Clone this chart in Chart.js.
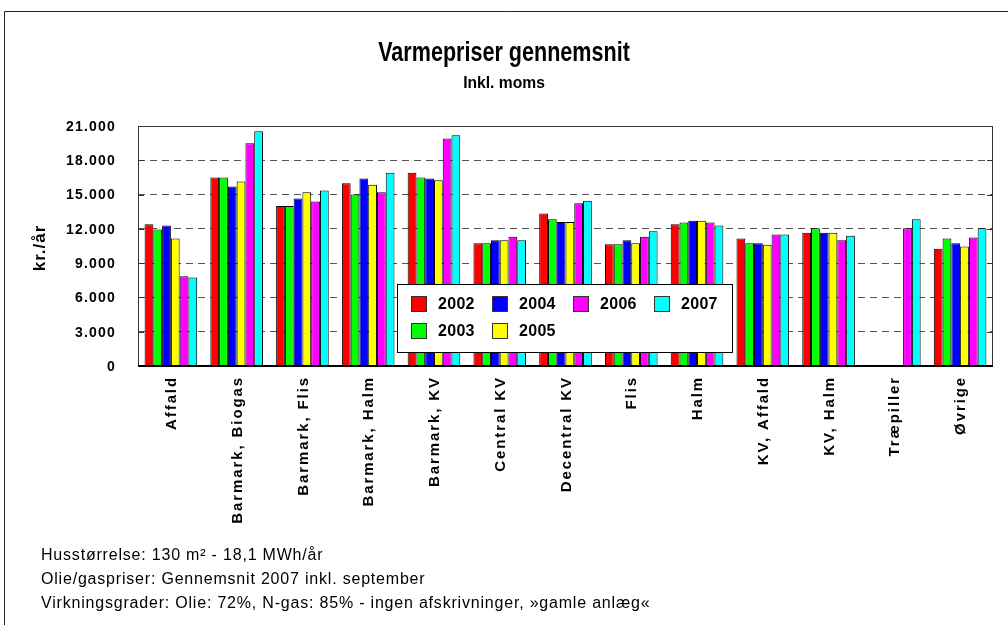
<!DOCTYPE html>
<html>
<head>
<meta charset="utf-8">
<script src="https://cdn.jsdelivr.net/npm/chart.js@4.4.0/dist/chart.umd.min.js"></script>
<style>
  body { margin: 0; background: #fff; }
  #wrap { width: 1008px; height: 625px; }
</style>
</head>
<body>
<div id="wrap"><canvas id="grafico" width="1008" height="625"></canvas></div>
<script>
// kategorier (x-aksen)
const kategorier = ['Affald', 'Barmark, Biogas', 'Barmark, Flis', 'Barmark, Halm', 'Barmark, KV',
  'Central KV', 'Decentral KV', 'Flis', 'Halm', 'KV, Affald', 'KV, Halm', 'Træpiller', 'Øvrige'];

// varmepriser kr./år pr. år
const pris2002 = [12400, 16500, 14000, 16000, 16900, 10750, 13350, 10650, 12400, 11150, 11650, null, 10250];
const pris2003 = [11950, 16500, 14000, 15000, 16500, 10750, 12850, 10650, 12550, 10750, 12050, null, 11150];
const pris2004 = [12300, 15700, 14650, 16400, 16400, 11000, 12600, 11000, 12700, 10750, 11650, null, 10750];
const pris2005 = [11150, 16150, 15200, 15850, 16250, 11000, 12600, 10750, 12700, 10600, 11650, null, 10450];
const pris2006 = [7850, 19500, 14400, 15200, 19900, 11300, 14250, 11300, 12550, 11500, 11000, 12050, 11250];
const pris2007 = [7750, 20550, 15350, 16900, 20200, 11000, 14450, 11800, 12300, 11500, 11400, 12850, 12050];

const aar = ['2002', '2003', '2004', '2005', '2006', '2007'];
const farver = ['#ff0000', '#00ff00', '#0000ff', '#ffff00', '#ff00ff', '#00ffff'];

const yMax = 21000;
const yStep = 3000;

const titel = 'Varmepriser gennemsnit';
const undertitel = 'Inkl. moms';
const yTitel = 'kr./år';
const fodnoter = [
  'Husstørrelse: 130 m² - 18,1 MWh/år',
  'Olie/gaspriser: Gennemsnit 2007 inkl. september',
  'Virkningsgrader: Olie: 72%, N-gas: 85% - ingen afskrivninger, »gamle anlæg«'
];

// legend placering (kolonne, raekke) som i Excel
const legendPladser = [[0, 0], [0, 1], [1, 0], [1, 1], [2, 0], [3, 0]];

const FONT = '"Liberation Sans", Arial, sans-serif';

function tusind(v) {
  return String(v).replace(/\B(?=(\d{3})+(?!\d))/g, '.');
}

// tekst med evt. vandret sammentrykning (sx)
function tekst(ctx, s, x, y, font, align, spacing, baseline, sx) {
  ctx.save();
  ctx.translate(x, y);
  ctx.scale(sx || 1, 1);
  ctx.font = font;
  ctx.textAlign = align;
  ctx.textBaseline = baseline || 'alphabetic';
  ctx.letterSpacing = (spacing || 0) + 'px';
  ctx.fillStyle = '#000';
  ctx.fillText(s, 0, 0);
  ctx.restore();
}

const pynt = {
  id: 'pynt',
  beforeDraw(chart) {
    const ctx = chart.ctx;
    ctx.save();
    ctx.fillStyle = '#fff';
    ctx.fillRect(0, 0, chart.width, chart.height);
    ctx.strokeStyle = '#222';
    ctx.lineWidth = 1;
    ctx.beginPath();
    ctx.moveTo(4.5, chart.height);
    ctx.lineTo(4.5, 11.5);
    ctx.lineTo(chart.width, 11.5);
    ctx.stroke();
    ctx.restore();
  },
  afterDatasetsDraw(chart) {
    const ctx = chart.ctx;
    const a = chart.chartArea;
    const y = chart.scales.y;
    ctx.save();
    // ramme om plotomraadet
    ctx.strokeStyle = '#333';
    ctx.lineWidth = 1;
    ctx.strokeRect(a.left + 0.5, a.top + 0.5, a.right - a.left - 1, a.bottom - a.top);
    // smaa tick-streger inde i plottet
    y.ticks.forEach(t => {
      const py = Math.round(y.getPixelForValue(t.value)) + 0.5;
      ctx.beginPath();
      ctx.moveTo(a.left, py); ctx.lineTo(a.left + 6, py);
      ctx.moveTo(a.right - 6, py); ctx.lineTo(a.right, py);
      ctx.stroke();
    });
    ctx.strokeStyle = '#000';
    ctx.lineWidth = 2;
    ctx.beginPath();
    ctx.moveTo(a.left, a.bottom); ctx.lineTo(a.right, a.bottom);
    ctx.stroke();

    // legend
    const bx = 397, by = 284, bw = 335, bh = 68;
    ctx.fillStyle = '#fff';
    ctx.fillRect(bx, by, bw, bh);
    ctx.strokeStyle = '#000';
    ctx.lineWidth = 1;
    ctx.strokeRect(bx + 0.5, by + 0.5, bw, bh);
    chart.data.datasets.forEach((ds, i) => {
      const [c, r] = legendPladser[i];
      const sx = 411 + c * 81;
      const sy = 296 + r * 27;
      ctx.fillStyle = ds.backgroundColor;
      ctx.fillRect(sx, sy, 16, 16);
      ctx.strokeStyle = '#333';
      ctx.strokeRect(sx + 0.5, sy + 0.5, 15, 15);
      tekst(ctx, ds.label, sx + 27, sy + 9, 'bold 16px ' + FONT, 'left', 0.3, 'middle');
    });
    ctx.restore();
  },
  afterDraw(chart) {
    const ctx = chart.ctx;
    const a = chart.chartArea;
    const x = chart.scales.x;
    const y = chart.scales.y;
    const midt = chart.width / 2;

    tekst(ctx, titel, midt, 61, 'bold 28px ' + FONT, 'center', 0, 'alphabetic', 0.77);
    tekst(ctx, undertitel, midt, 88, 'bold 17px ' + FONT, 'center', 0, 'alphabetic', 0.92);

    // y-akse labels
    y.ticks.forEach(t => {
      tekst(ctx, tusind(t.value), a.left - 22, y.getPixelForValue(t.value) + 1,
        'bold 14px ' + FONT, 'right', 1.2, 'middle');
    });

    // y-akse titel
    ctx.save();
    ctx.translate(40, (a.top + a.bottom) / 2 + 2);
    ctx.rotate(-Math.PI / 2);
    tekst(ctx, yTitel, 0, 0, 'bold 17px ' + FONT, 'center', 1, 'middle');
    ctx.restore();

    // x-akse labels, roteret
    chart.data.labels.forEach((lab, i) => {
      ctx.save();
      ctx.translate(x.getPixelForTick(i) + 1, a.bottom + 10);
      ctx.rotate(-Math.PI / 2);
      tekst(ctx, lab, 0, 0, 'bold 15px ' + FONT, 'right', 1.9, 'middle');
      ctx.restore();
    });

    // fodnoter
    fodnoter.forEach((s, i) => {
      tekst(ctx, s, 41, 560 + i * 24, '16px ' + FONT, 'left', 0.8);
    });
  }
};

const serier = [pris2002, pris2003, pris2004, pris2005, pris2006, pris2007];

new Chart(document.getElementById('grafico'), {
  type: 'bar',
  data: {
    labels: kategorier,
    datasets: serier.map((d, i) => ({
      label: aar[i],
      data: d,
      backgroundColor: farver[i],
      borderColor: '#000',
      borderWidth: 1,
      barPercentage: 1,
      categoryPercentage: 0.8
    }))
  },
  options: {
    responsive: false,
    animation: false,
    devicePixelRatio: 1,
    layout: { padding: { top: 126, right: 15, left: 0, bottom: 0 } },
    plugins: {
      legend: { display: false },
      title: { display: false },
      tooltip: { enabled: false }
    },
    scales: {
      x: {
        grid: { display: false, drawTicks: false },
        border: { display: false },
        ticks: { display: false },
        afterFit: s => { s.height = 259; }
      },
      y: {
        min: 0,
        max: yMax,
        ticks: { stepSize: yStep, display: false },
        grid: {
          drawTicks: false,
          color: c => (c.tick && (c.tick.value === 0 || c.tick.value === yMax)) ? 'rgba(0,0,0,0)' : '#555'
        },
        border: { display: false, dash: [7, 5] },
        afterFit: s => { s.width = 138; }
      }
    }
  },
  plugins: [pynt]
});
</script>
</body>
</html>
